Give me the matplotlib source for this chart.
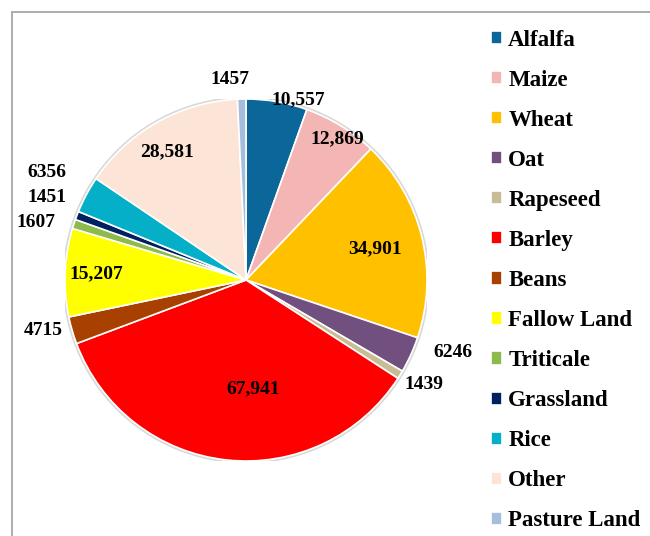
import numpy as np
import matplotlib
matplotlib.use("Agg")
import matplotlib.pyplot as plt
from matplotlib.patches import Rectangle, Circle

# crop area data
crops = ["Alfalfa", "Maize", "Wheat", "Oat", "Rapeseed", "Barley", "Beans",
         "Fallow Land", "Triticale", "Grassland", "Rice", "Other", "Pasture Land"]
areas = [10557, 12869, 34901, 6246, 1439, 67941, 4715,
         15207, 1607, 1451, 6356, 28581, 1457]
area_labels = ["10,557", "12,869", "34,901", "6246", "1439", "67,941", "4715",
               "15,207", "1607", "1451", "6356", "28,581", "1457"]
colors = ["#0B6699", "#F4B6B4", "#FFC000", "#71507F", "#C8BC95", "#FF0000", "#A84000",
          "#FFFF00", "#8CBB4C", "#002060", "#05AFC7", "#FCE4D6", "#A6BEDD"]

# label placement: (distance in radii, angle nudge in degrees)
label_pos = [(1.04, -6.4), (0.93, -1.4), (0.735, -0.5), (1.21, 5.0), (1.14, 1.3),
             (0.60, 10.0), (1.155, -2.2), (0.83, -0.2), (1.20, 2.8), (1.19, -1.5),
             (1.25, -0.3), (0.83, 2.3), (1.11, 3.1)]

plt.rcParams['font.family'] = ['Liberation Serif', 'DejaVu Serif']
plt.rcParams['font.weight'] = 'bold'

fig = plt.figure(figsize=(6.5, 5.36), dpi=100)

# thin frame round the chart area
fig.patches.append(Rectangle((12 / 650, -0.2), 1.2, 1.2 - 12 / 536,
                             transform=fig.transFigure, fill=False,
                             edgecolor="#a6a6a6", linewidth=1.3))

ax = fig.add_axes([65 / 650, (536 - 280 - 181) / 536, 362 / 650, 362 / 536])
# faint outline under the pie
ax.add_patch(Circle((0, 0), 1.008, facecolor="none", edgecolor="#d9d9d9",
                    linewidth=1.5, zorder=0))
wedges, _ = ax.pie(areas, colors=colors, startangle=90, counterclock=False,
                   radius=1.0, wedgeprops=dict(edgecolor="white", linewidth=1.2))
ax.set_xlim(-1, 1)
ax.set_ylim(-1, 1)
ax.set_aspect("auto")
ax.axis("off")

for w, txt, (d, nudge) in zip(wedges, area_labels, label_pos):
    ang = np.deg2rad((w.theta1 + w.theta2) / 2 + nudge)
    ax.text(d * np.cos(ang), d * np.sin(ang), txt, ha="center", va="center",
            fontsize=14, fontweight="bold", color="black", clip_on=False)

fig.legend(wedges, crops, loc="upper left", bbox_to_anchor=(491 / 650, 1 - 30 / 536),
           frameon=False, fontsize=16.5, handlelength=0.5, handleheight=0.5,
           handletextpad=0.25, labelspacing=0.83, borderaxespad=0, borderpad=0)

fig.savefig("out.png", dpi=100)
